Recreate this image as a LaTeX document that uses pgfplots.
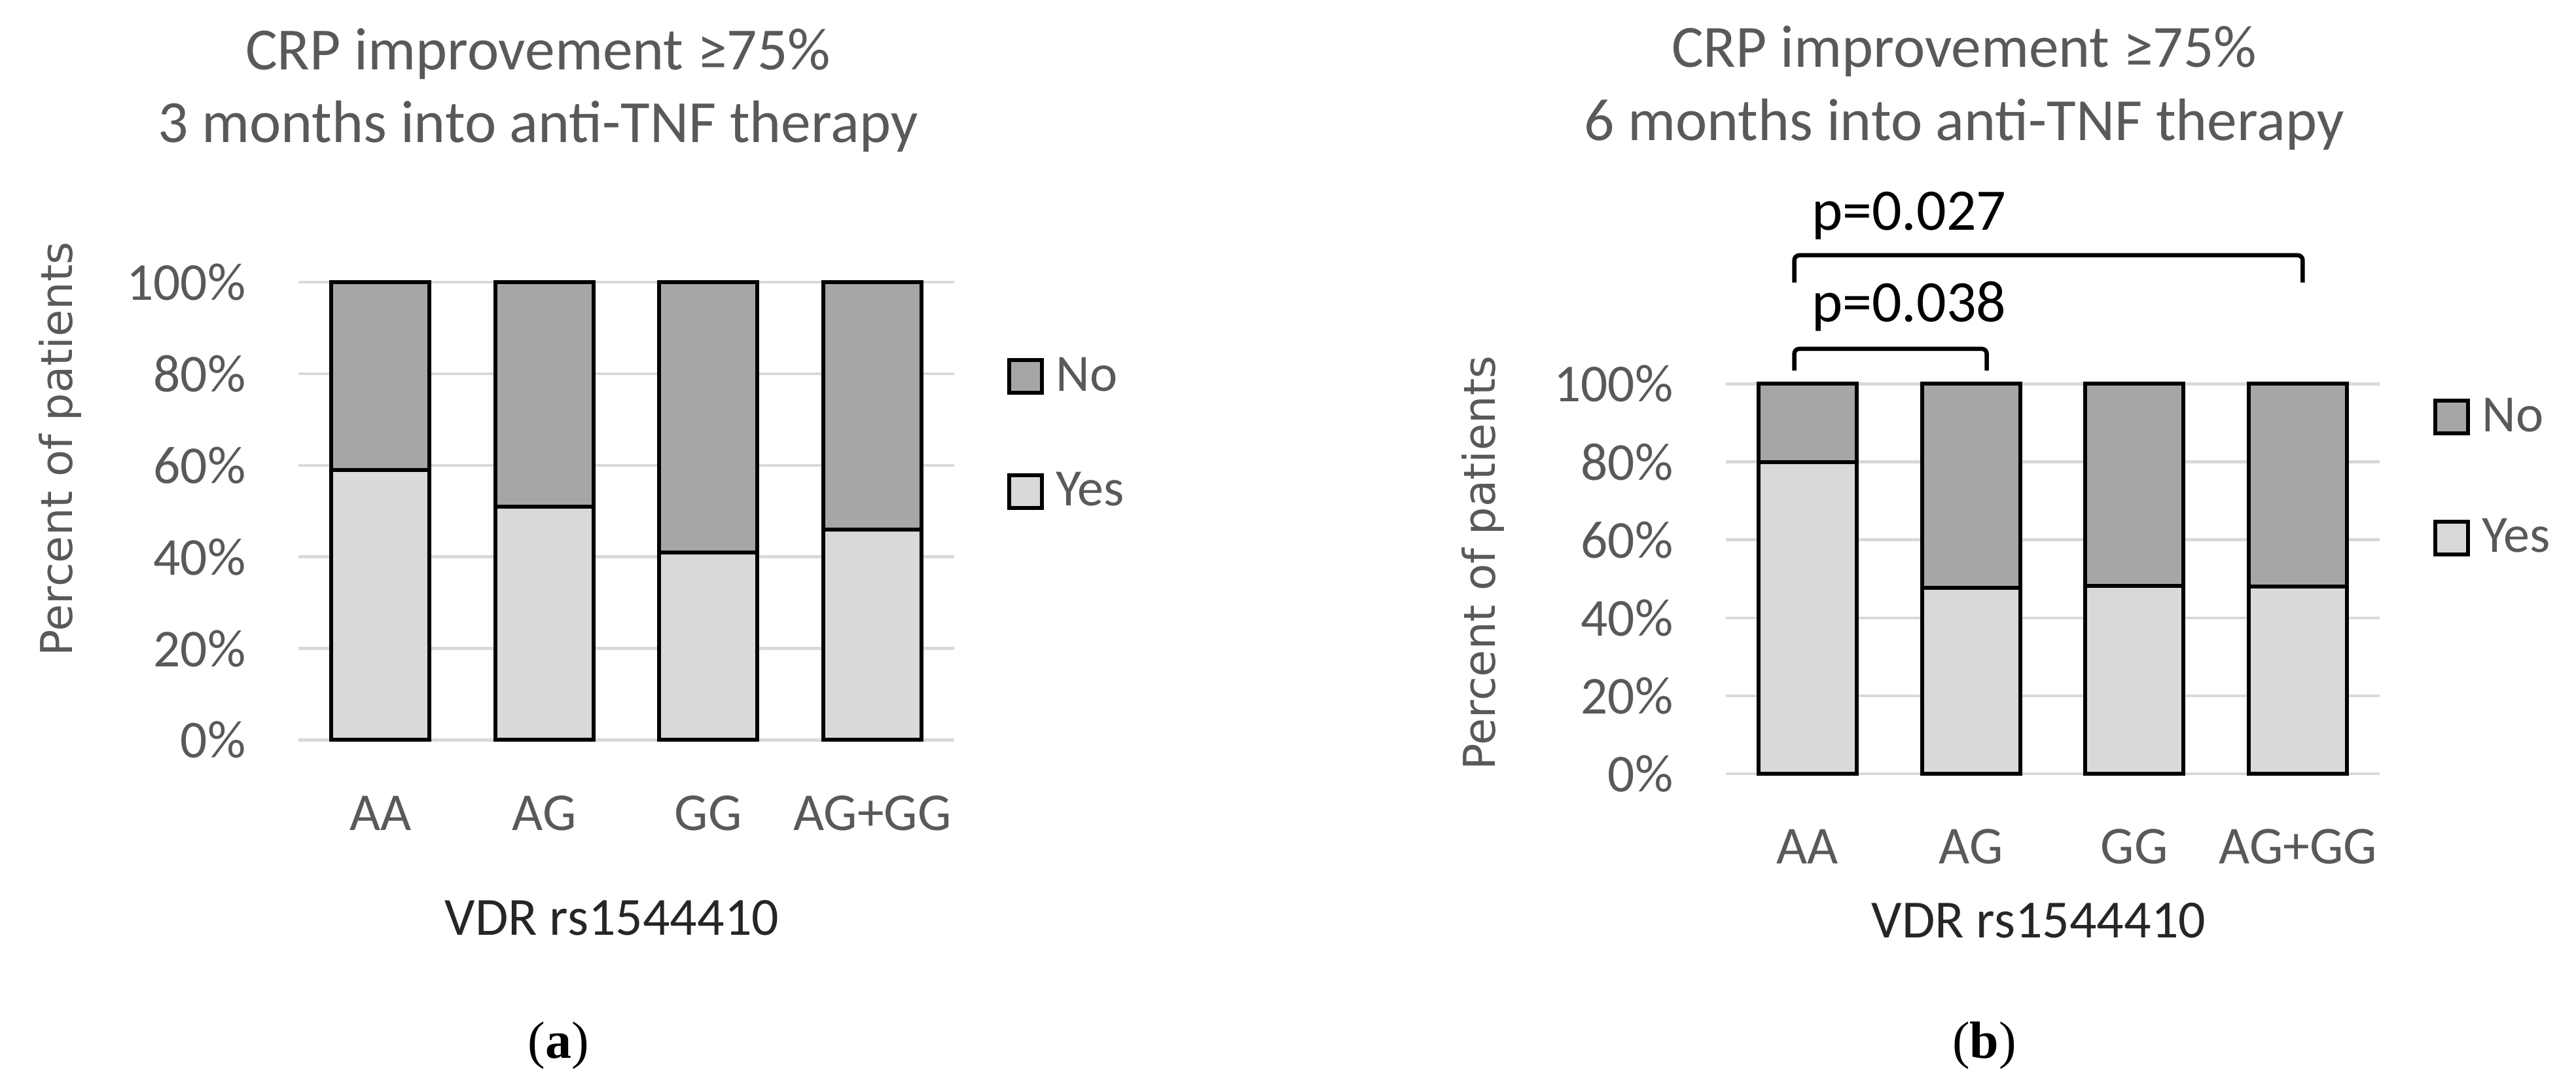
\documentclass[border=0pt]{standalone}
\usepackage{fontspec}
\setmainfont{Carlito}
\newfontfamily\dejavu{DejaVu Sans}
\newfontfamily\libserif{Liberation Serif}
\usepackage{pgfplots}
\pgfplotsset{compat=1.18}
\definecolor{txtgray}{HTML}{595959}
\definecolor{yescol}{HTML}{D9D9D9}
\definecolor{nocol}{HTML}{A6A6A6}
\definecolor{gridcol}{HTML}{D9D9D9}

\pgfplotsset{
  mylegA/.style={
    legend image code/.code={
      \path[draw=none, fill=none] (0pt,-17.55pt) rectangle (14.3pt,17.55pt);
      \draw[##1, line width=1.2pt] (0pt,-5pt) rectangle (10pt,5pt);
    }
  },
  mylegB/.style={
    legend image code/.code={
      \path[draw=none, fill=none] (0pt,-18.45pt) rectangle (14.3pt,18.45pt);
      \draw[##1, line width=1.2pt] (0pt,-5pt) rectangle (10pt,5pt);
    }
  },
  mybars/.style={
    scale only axis,
    ybar stacked, bar width=0.6,
    xmin=-0.5, xmax=3.5, ymin=0, ymax=100,
    xtick={0,1,2,3}, xticklabels={AA,AG,GG,AG+GG},
    ytick={0,20,40,60,80,100},
    yticklabels={0\%,20\%,40\%,60\%,80\%,100\%},
    axis line style={draw=none},
    major tick length=0pt, tick style={draw=none},
    ymajorgrids, grid style={gridcol, line width=0.9pt},
    clip=false,
    tick label style={font=\fontsize{16.3}{19}\selectfont, text=txtgray, inner sep=0pt},
    yticklabel style={anchor=east, xshift=-15.9pt},
    xticklabel style={anchor=center, yshift=-22.3pt},
    legend cell align=left,
    reverse legend,
    legend style={draw=none, fill=none, inner sep=0pt, row sep=0pt,
      font=\fontsize{16}{19}\selectfont, text=txtgray,
      nodes={inner sep=0pt}},
  }
}

\begin{document}
\begin{tikzpicture}[x=1pt,y=1pt]
\path[use as bounding box] (0,0) rectangle (787.2,331.8);

% ---------- (a) ----------
\begin{axis}[mybars, at={(91.2pt,105.7pt)}, anchor=south west,
  width=200.4pt, height=139.9pt,
  legend style={at={(1.0798,0.668)}, anchor=west}]
\addplot[fill=yescol, draw=black, line width=1.2pt, mylegA]
  coordinates {(0,59) (1,51) (2,41) (3,46)};
\addplot[fill=nocol, draw=black, line width=1.2pt, mylegA]
  coordinates {(0,41) (1,49) (2,59) (3,54)};
\legend{Yes,No}
\end{axis}

% ---------- (b) ----------
\begin{axis}[mybars, at={(527.4pt,95.4pt)}, anchor=south west,
  width=199.8pt, height=119.1pt,
  legend style={at={(1.081,0.760)}, anchor=west}]
\addplot[fill=yescol, draw=black, line width=1.2pt, mylegB]
  coordinates {(0,80) (1,47.7) (2,48.2) (3,48.1)};
\addplot[fill=nocol, draw=black, line width=1.2pt, mylegB]
  coordinates {(0,20) (1,52.3) (2,51.8) (3,51.9)};
\legend{Yes,No}
\draw[line width=1.3pt, rounded corners=1.5pt]
  (axis cs:-0.081,126) -- (axis cs:-0.081,133) -- (axis cs:3.029,133) -- (axis cs:3.029,126);
\draw[line width=1.3pt, rounded corners=1.5pt]
  (axis cs:-0.081,103.4) -- (axis cs:-0.081,109) -- (axis cs:1.096,109) -- (axis cs:1.096,103.4);
\end{axis}

% titles
\node[anchor=base, inner sep=0pt, text=txtgray, font=\fontsize{18.3}{22}\selectfont] at (164.4,310.5) {CRP improvement ≥75\%};
\node[anchor=base, inner sep=0pt, text=txtgray, font=\fontsize{18.3}{22}\selectfont] at (164.4,288.3) {3 months into anti-TNF therapy};
\node[anchor=base, inner sep=0pt, text=txtgray, font=\fontsize{18.3}{22}\selectfont] at (600.2,311.2) {CRP improvement ≥75\%};
\node[anchor=base, inner sep=0pt, text=txtgray, font=\fontsize{18.3}{22}\selectfont] at (600.2,288.8) {6 months into anti-TNF therapy};

% p-values
\node[anchor=base west, inner sep=0pt, font=\fontsize{18}{22}\selectfont] at (553.4,261.5) {p=0.027};
\node[anchor=base west, inner sep=0pt, font=\fontsize{18}{22}\selectfont] at (553.4,233.5) {p=0.038};

% y labels
\node[rotate=90, anchor=center, inner sep=0pt, text=txtgray, font=\dejavu\fontsize{13.4}{16}\selectfont] at (18.4,194.6) {Percent of patients};
\node[rotate=90, anchor=center, inner sep=0pt, text=txtgray, font=\dejavu\fontsize{13.4}{16}\selectfont] at (453.2,159.8) {Percent of patients};

% x labels
\node[anchor=center, inner sep=0pt, text=black!85, font=\fontsize{16.4}{19}\selectfont] at (187,51.4) {VDR rs1544410};
\node[anchor=center, inner sep=0pt, text=black!85, font=\fontsize{16.4}{19}\selectfont] at (623,50.6) {VDR rs1544410};

% panel labels
\node[anchor=center, inner sep=0pt, font=\libserif\fontsize{16}{19}\selectfont] at (170.6,12.4) {(\textbf{a})};
\node[anchor=center, inner sep=0pt, font=\libserif\fontsize{16}{19}\selectfont] at (606.4,12.4) {(\textbf{b})};
\end{tikzpicture}
\end{document}
